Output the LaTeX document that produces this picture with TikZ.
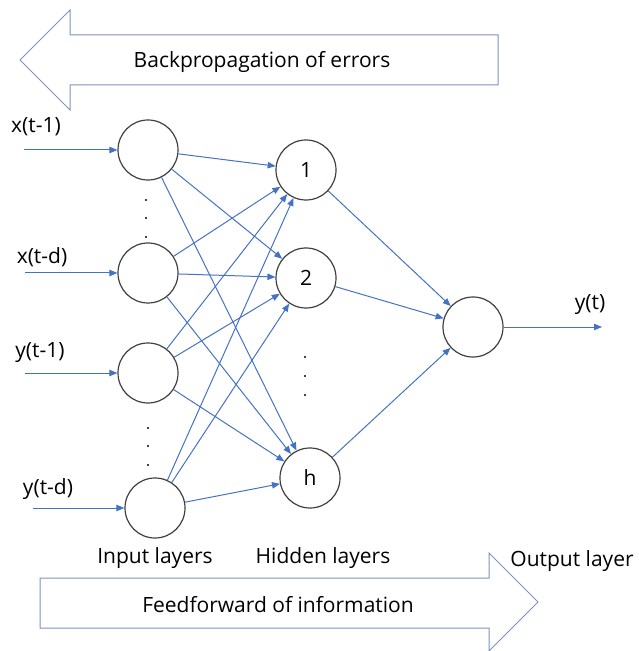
\documentclass[tikz,border=0pt]{standalone}
\usepackage{fontspec}
\setmainfont{Open Sans}
\usetikzlibrary{arrows.meta}

\definecolor{linkblue}{RGB}{68,114,196}
\definecolor{shaftblue}{RGB}{125,145,190}
\definecolor{ringgray}{RGB}{64,64,64}

\begin{document}
\begin{tikzpicture}[x=0.5pt, y=-0.5pt, >={Triangle[length=4pt,width=3.2pt]},
    neuron/.style={circle, draw=ringgray, line width=0.6pt, minimum size=30pt, inner sep=0pt, font=\fontsize{10.5}{13}\selectfont},
    link/.style={->, draw=linkblue, line width=0.5pt},
    lbl/.style={inner sep=0pt, font=\fontsize{10.5}{13}\selectfont},
    bigarrow/.style={draw=shaftblue, line width=0.5pt}]
            \useasboundingbox (0,0) rectangle (638,651);

            % big arrows
            \draw[bigarrow] (20,60) -- (70,10) -- (70,35) -- (498,35) -- (498,85) -- (70,85) -- (70,110) -- cycle;
            \node[lbl] (back) at (262,62) {Backpropagation of errors};
            \draw[bigarrow] (40,578) -- (489,578) -- (489,553) -- (538,602) -- (489,651) -- (489,628) -- (40,628) -- cycle;
            \node[lbl] (feed) at (278,605) {Feedforward of information};

            % neurons
            \node[neuron] (i1) at (148,150) {};
            \node[neuron] (i2) at (148,273) {};
            \node[neuron] (i3) at (148,373) {};
            \node[neuron] (i4) at (155,508) {};
            \node[neuron] (h1) at (306,170) {1};
            \node[neuron] (h2) at (306,278) {2};
            \node[neuron] (hh) at (310,478) {h};
            \node[neuron] (out) at (473,327) {};

            % dots
            \foreach \y in {200,218,237} \fill (146,\y) circle (0.6pt);
            \foreach \y in {428,446,465} \fill (148,\y) circle (0.6pt);
            \foreach \y in {357,376,395} \fill (305,\y) circle (0.6pt);

            % inputs
            \node[lbl] (lx1) at (36,127) {x(t-1)};
            \node[lbl] (lxd) at (42,257) {x(t-d)};
            \node[lbl] (ly1) at (40,353) {y(t-1)};
            \node[lbl] (lyd) at (48,489) {y(t-d)};
            \coordinate (in1) at (24,150);
            \coordinate (in2) at (25,273);
            \coordinate (in3) at (25,373);
            \coordinate (in4) at (33,508);
            \draw[link] (in1) -- (i1);
            \draw[link] (in2) -- (i2);
            \draw[link] (in3) -- (i3);
            \draw[link] (in4) -- (i4);

            \foreach \i in {i1,i2,i3,i4}
                \foreach \j in {h1,h2,hh}
                    \draw[link] (\i) -- (\j);
            \foreach \j in {h1,h2,hh}
                \draw[link] (\j) -- (out);

            \coordinate (yt) at (602,327);
            \draw[link] (out) -- (yt);
            \node[lbl] (lyt) at (590,305) {y(t)};

            % layer names
            \node[lbl] (inl) at (155,558) {Input layers};
            \node[lbl] (hidl) at (323,558) {Hidden layers};
            \node[lbl] (outl) at (572,561) {Output layer};
\end{tikzpicture}
\end{document}
